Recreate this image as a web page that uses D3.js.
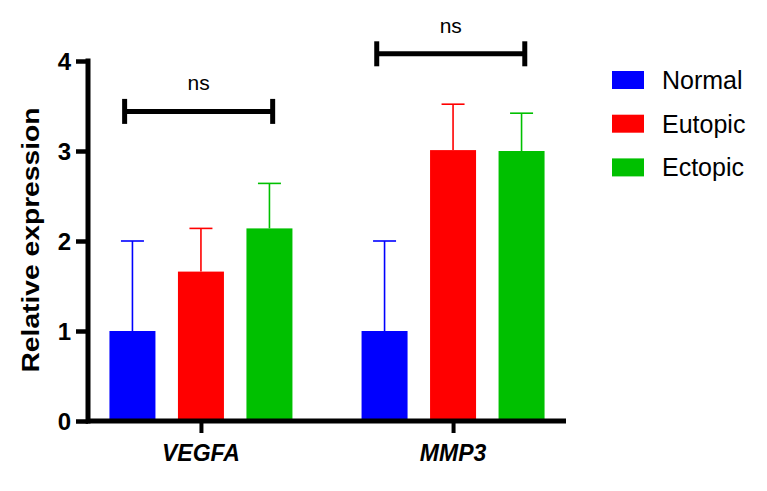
<!DOCTYPE html>
<html><head><meta charset="utf-8">
<script src="https://cdn.jsdelivr.net/npm/d3@7"></script>
<style>body{margin:0;background:#fff}</style>
</head><body>
<svg id="c" width="767" height="491"></svg>
<script>
const genes = ["VEGFA", "MMP3"];
const groups = ["Normal", "Eutopic", "Ectopic"];
const colors = ["#0000FF", "#FF0000", "#00C000"];
const means = {Normal: [1.0, 1.0], Eutopic: [1.66, 3.01], Ectopic: [2.14, 3.0]};
const errTops = {Normal: [2.0, 2.0], Eutopic: [2.14, 3.52], Ectopic: [2.64, 3.42]};
const sigLabels = ["ns", "ns"];
const sigLevels = [3.44, 4.08];
const yTicks = [0, 1, 2, 3, 4];
const yTitle = "Relative expression";

const svg = d3.select("#c");
const font = "'Liberation Sans', Arial, sans-serif";
const y = d3.scaleLinear().domain([0, 4]).range([421, 61]);
const x = d3.scalePoint().domain(genes).range([88, 566]).padding(0.448);
const xs = d3.scaleBand().domain(groups).range([-91.5, 91.5]).paddingInner(0.3285);
const bw = xs.bandwidth();
const color = d3.scaleOrdinal().domain(groups).range(colors);

// bars
const rows = [];
genes.forEach((g, gi) => groups.forEach(s => rows.push({g, s, v: means[s][gi], e: errTops[s][gi]})));
svg.append("g").selectAll("rect").data(rows).join("rect")
  .attr("x", d => x(d.g) + xs(d.s)).attr("width", bw)
  .attr("y", d => y(d.v)).attr("height", d => y(0) - y(d.v))
  .attr("fill", d => color(d.s));
// error bars
const eg = svg.append("g");
rows.forEach(d => {
  const cx = x(d.g) + xs(d.s) + bw / 2;
  eg.append("line").attr("x1", cx).attr("x2", cx).attr("y1", y(d.v)).attr("y2", y(d.e))
    .attr("stroke", color(d.s)).attr("stroke-width", 1.6);
  eg.append("line").attr("x1", cx - 11.5).attr("x2", cx + 11.5).attr("y1", y(d.e)).attr("y2", y(d.e))
    .attr("stroke", color(d.s)).attr("stroke-width", 1.6);
});

// axes
const yAxis = svg.append("g").attr("transform", "translate(88,0)")
  .call(d3.axisLeft(y).tickValues(yTicks).tickFormat(d3.format("d")).tickSize(12).tickPadding(5));
yAxis.select(".domain").attr("stroke", "#000").attr("stroke-width", 5).attr("d", `M0,${y(4)-2.5}V${y(0)+2.5}`);
yAxis.selectAll(".tick line").attr("stroke", "#000").attr("stroke-width", 4.5);
yAxis.selectAll(".tick text").attr("font-family", font).attr("font-weight", "bold").attr("font-size", 24).attr("fill", "#000").attr("dy", "0.36em");

const xAxis = svg.append("g").attr("transform", `translate(0,${y(0)})`)
  .call(d3.axisBottom(x).tickSize(12).tickFormat(""));
xAxis.select(".domain").attr("stroke", "#000").attr("stroke-width", 5).attr("d", "M86,0H566");
xAxis.selectAll(".tick line").attr("stroke", "#000").attr("stroke-width", 4);

svg.append("g").selectAll("text").data(genes).join("text")
  .attr("x", d => x(d)).attr("y", 461).attr("text-anchor", "middle")
  .attr("font-family", font).attr("font-weight", "bold").attr("font-style", "italic").attr("font-size", 23)
  .text(d => d);

svg.append("text").attr("transform", "translate(39,240) rotate(-90)").attr("text-anchor", "middle")
  .attr("font-family", font).attr("font-weight", "bold").attr("font-size", 24)
  .attr("textLength", 265).attr("lengthAdjust", "spacingAndGlyphs").text(yTitle);

// significance brackets
const sg = svg.append("g");
genes.forEach((g, i) => {
  const x0 = x(g) + xs("Normal") + bw * 0.33;
  const x1 = x(g) + xs("Ectopic") + bw * 0.57;
  const yy = y(sigLevels[i]);
  sg.append("line").attr("x1", x0).attr("x2", x1).attr("y1", yy).attr("y2", yy).attr("stroke", "#000").attr("stroke-width", 5);
  [x0, x1].forEach(xx => sg.append("line").attr("x1", xx).attr("x2", xx).attr("y1", yy - 12.5).attr("y2", yy + 12.5).attr("stroke", "#000").attr("stroke-width", 5));
  sg.append("text").attr("x", (x0 + x1) / 2).attr("y", yy - 21).attr("text-anchor", "middle")
    .attr("font-family", font).attr("font-size", 21).text(sigLabels[i]);
});

// legend
const lg = svg.append("g").attr("transform", "translate(612,71)");
groups.forEach((s, i) => {
  const r = lg.append("g").attr("transform", `translate(0,${i * 43.7})`);
  r.append("rect").attr("width", 32).attr("height", 18).attr("fill", color(s));
  r.append("text").attr("x", 50).attr("y", 9).attr("dy", "0.36em")
    .attr("font-family", font).attr("font-size", 25).text(s);
});
</script>
</body></html>
